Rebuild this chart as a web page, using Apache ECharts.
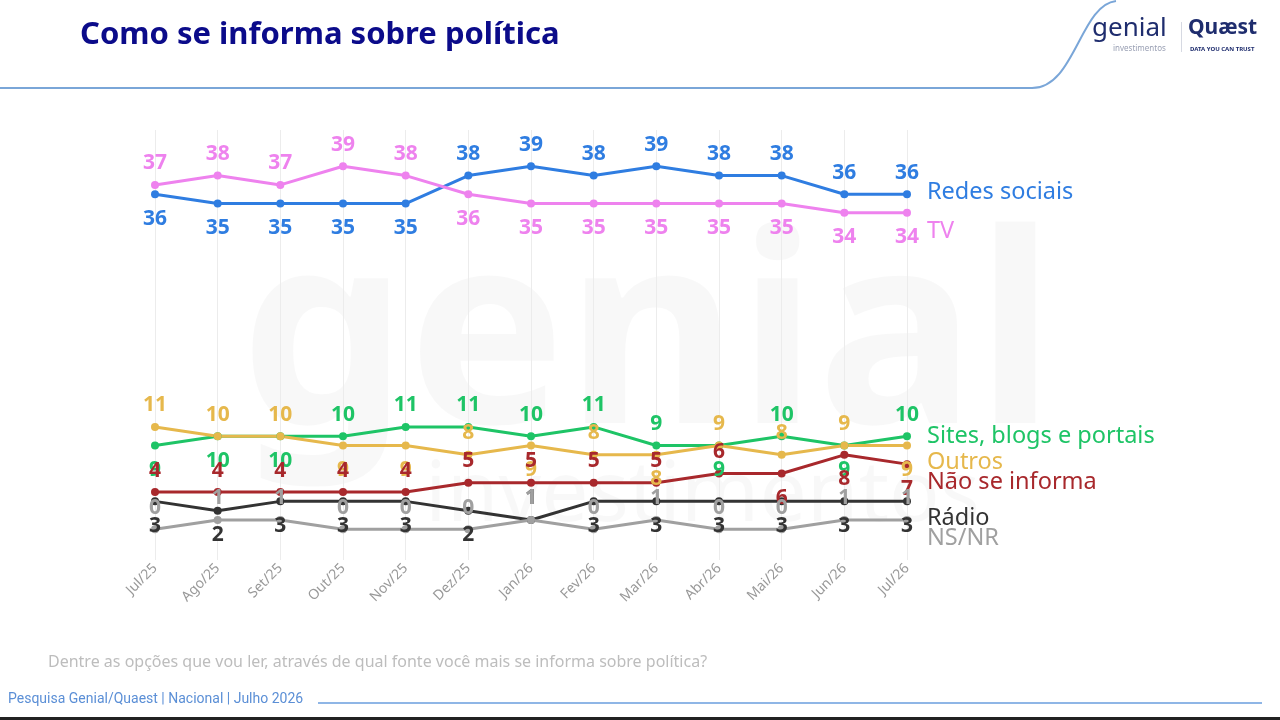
<!DOCTYPE html>
<html>
<head>
<meta charset="utf-8">
<script src="https://cdn.jsdelivr.net/npm/echarts@6/dist/echarts.min.js"></script>
<style>
  html, body { margin: 0; padding: 0; background: #fff; }
  #chart { width: 1280px; height: 720px; }
</style>
</head>
<body>
<div id="chart"></div>
<script>
// categorias (meses)
const months = ["Jul/25", "Ago/25", "Set/25", "Out/25", "Nov/25", "Dez/25", "Jan/26", "Fev/26", "Mar/26", "Abr/26", "Mai/26", "Jun/26", "Jul/26"];

// valores por fonte (%)
const redesSociais = [36, 35, 35, 35, 35, 38, 39, 38, 39, 38, 38, 36, 36];
const tv           = [37, 38, 37, 39, 38, 36, 35, 35, 35, 35, 35, 34, 34];
const sites        = [9, 10, 10, 10, 11, 11, 10, 11, 9, 9, 10, 9, 10];
const outros       = [11, 10, 10, 9, 9, 8, 9, 8, 8, 9, 8, 9, 9];
const naoInforma   = [4, 4, 4, 4, 4, 5, 5, 5, 5, 6, 6, 8, 7];
const radio        = [3, 2, 3, 3, 3, 2, 1, 3, 3, 3, 3, 3, 3];
const nsnr         = [0, 1, 1, 0, 0, 0, 1, 0, 1, 0, 0, 1, 1];

// onde fica o rótulo de cada ponto (t = acima, b = abaixo)
const posRedes  = "bbbbbtttttttt";
const posTv     = "tttttbbbbbbbb";
const posSites  = "bbbttttttbtbt";
const posOutros = "tttbbtbtbtttb";
const posNao    = "ttttttttttbbb";
const posRadio  = "bbbbbbtbbbbbb";
const posNsnr   = "ttttttttttttt";

const FONT = "Noto Sans";

function mkSeries(name, values, pos, color, endDy) {
    return {
        name: name,
        type: "line",
        data: values.map((v, i) => ({
            value: v,
            label: {
                position: pos[i] === "t" ? "top" : "bottom",
                distance: pos[i] === "t" ? 7 : 10
            }
        })),
        symbol: "circle",
        symbolSize: 8,
        lineStyle: {color: color, width: 3},
        itemStyle: {color: color},
        label: {
            show: true,
            color: color,
            fontFamily: FONT,
            fontWeight: "bold",
            fontSize: 21
        },
        endLabel: {
            show: true,
            formatter: "{a}",
            color: color,
            fontFamily: FONT,
            fontSize: 23.5,
            distance: 20,
            offset: [0, endDy]
        },
        emphasis: {disabled: true},
        animation: false
    }
}

let myChart = echarts.init(document.getElementById("chart"));

myChart.setOption({
    backgroundColor: "#fff",
    animation: false,
    grid: {left: 155, right: 373, top: 130, bottom: 160},
    xAxis: {
        type: "category",
        data: months,
        boundaryGap: false,
        axisLine: {show: false},
        axisTick: {show: false},
        splitLine: {show: true, lineStyle: {color: "#ececec", width: 1}},
        axisLabel: {
            rotate: 45,
            margin: 6,
            color: "#999",
            fontFamily: FONT,
            fontSize: 14
        }
    },
    yAxis: {
        type: "value",
        min: -3.3,
        max: 42.9,
        show: false,
        splitLine: {show: false}
    },
    graphic: [
        // marca d'água
        {type: "text", x: 240, y: 215, z: -10, silent: true,
            style: {text: "genial", font: "bold 265px 'Noto Sans'", fill: "rgba(0,0,0,0.028)"}},
        {type: "text", x: 425, y: 455, z: -10, silent: true,
            style: {text: "investimentos", font: "84px 'Noto Sans'", fill: "rgba(0,0,0,0.028)"}},
        // cabeçalho
        {type: "text", x: 80, y: 20,
            style: {text: "Como se informa sobre política", font: "bold 31px 'Noto Sans'", fill: "#0b0b8a"}},
        {type: "line", silent: true,
            shape: {x1: 0, y1: 88, x2: 1032, y2: 88},
            style: {stroke: "#7aa6d8", lineWidth: 2}},
        {type: "bezierCurve", silent: true,
            shape: {x1: 1032, y1: 88, cpx1: 1075, cpy1: 88, cpx2: 1080, cpy2: 5, x2: 1116, y2: 1},
            style: {fill: null, stroke: "#7aa6d8", lineWidth: 2}},
        {type: "text", x: 1092, y: 16,
            style: {text: "genial", font: "26px 'Noto Sans'", fill: "#1f2d6e"}},
        {type: "text", x: 1113, y: 45,
            style: {text: "investimentos", font: "8px 'Noto Sans'", fill: "#9aa0b4"}},
        {type: "rect", shape: {x: 1181, y: 22, width: 1, height: 30}, style: {fill: "#d6d9e2"}},
        {type: "text", x: 1188, y: 18,
            style: {text: "Quæst", font: "bold 21px 'Noto Sans'", fill: "#1f2d6e"}},
        {type: "text", x: 1190, y: 46,
            style: {text: "DATA YOU CAN TRUST", font: "bold 6px 'Noto Sans'", fill: "#1f2d6e"}},
        // rodapé
        {type: "text", x: 48, y: 654,
            style: {text: "Dentre as opções que vou ler, através de qual fonte você mais se informa sobre política?",
                font: "16px 'Noto Sans'", fill: "#bdbdbd"}},
        {type: "text", x: 8, y: 692,
            style: {text: "Pesquisa Genial/Quaest | Nacional | Julho 2026", font: "14px Roboto", fill: "#5b8fd6"}},
        {type: "rect", shape: {x: 318, y: 702, width: 944, height: 2}, style: {fill: "#8fb6e6"}},
        {type: "rect", shape: {x: 0, y: 717, width: 1280, height: 3}, style: {fill: "#222"}}
    ],
    series: [
        mkSeries("Redes sociais", redesSociais, posRedes, "#2f7de1", -2),
        mkSeries("TV", tv, posTv, "#ee82ee", 18),
        mkSeries("Sites, blogs e portais", sites, posSites, "#1ec466", 0),
        mkSeries("Outros", outros, posOutros, "#e6b84c", 17),
        mkSeries("Não se informa", naoInforma, posNao, "#a8282c", 18),
        mkSeries("Rádio", radio, posRadio, "#333333", 17),
        mkSeries("NS/NR", nsnr, posNsnr, "#a0a0a0", 18)
    ]
});
</script>
</body>
</html>
